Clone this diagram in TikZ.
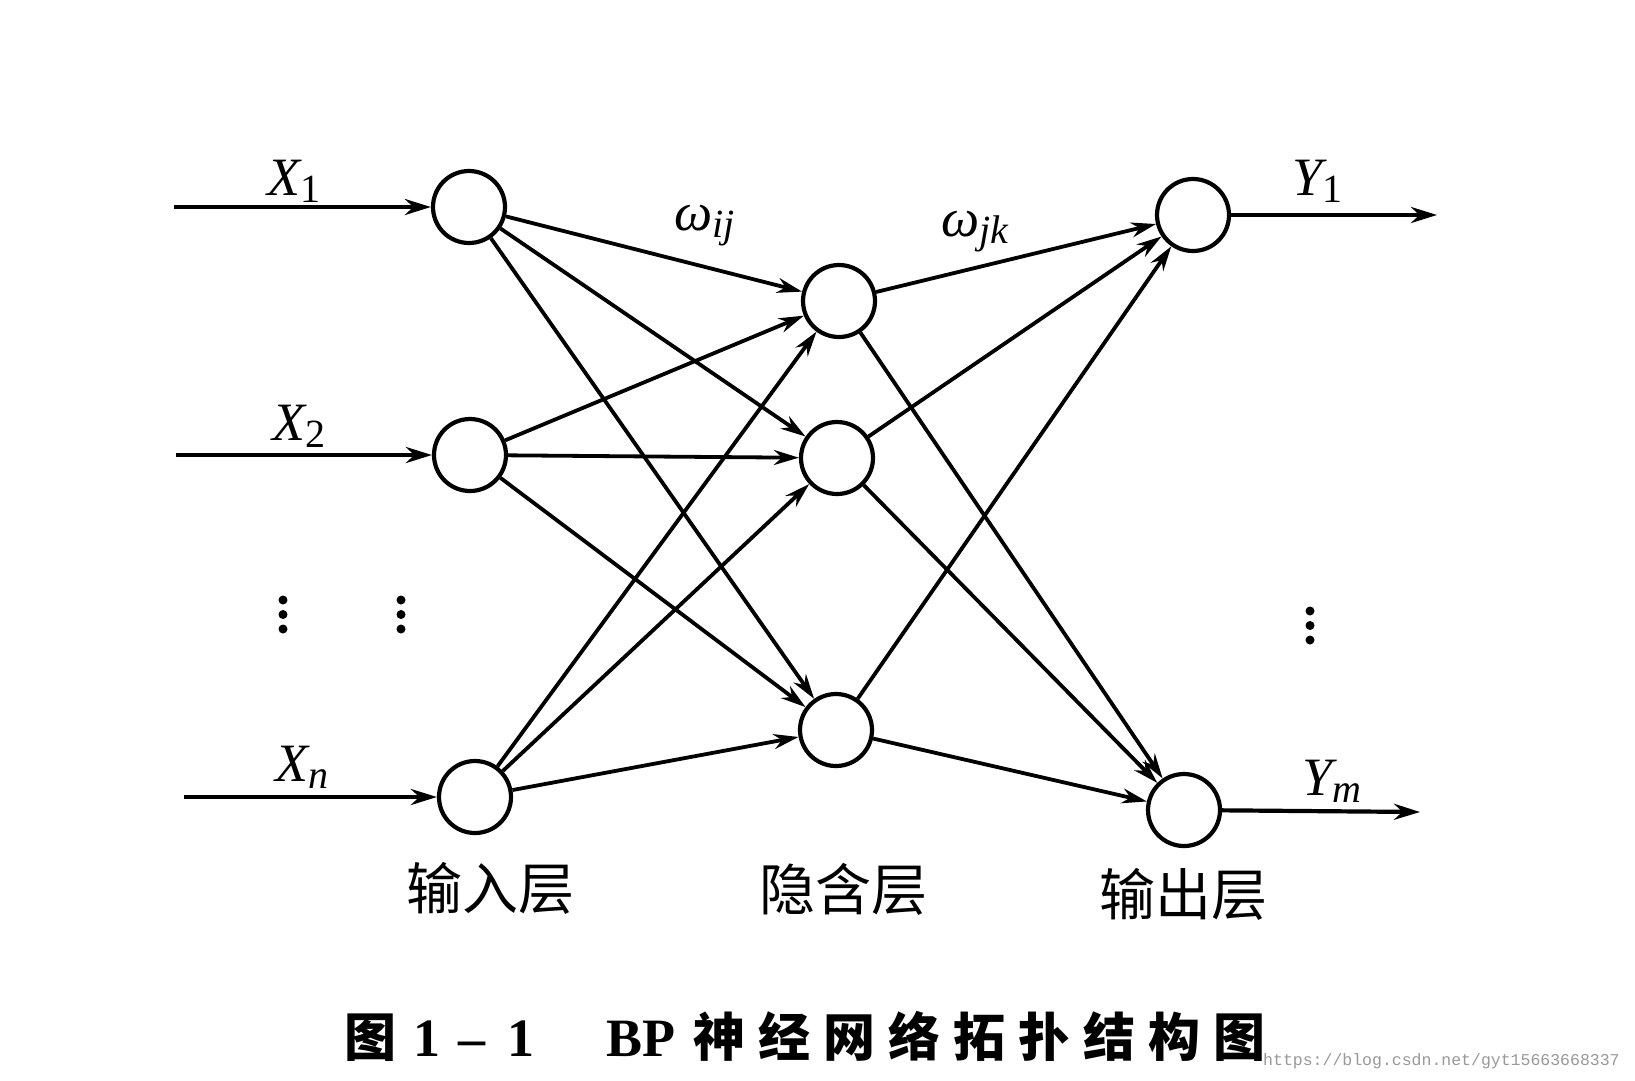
\documentclass[tikz,border=0pt]{standalone}
\usepackage{fontspec}
\setmainfont{Liberation Serif}
\newfontfamily\cjk{Noto Sans CJK SC}
\newfontfamily\wmfont{Liberation Mono}
\usetikzlibrary{arrows.meta}
\newcommand\lsub[1]{\raisebox{-7pt}{\fontsize{40}{40}\selectfont #1}}
\begin{document}
\begin{tikzpicture}[x=1pt,y=-1pt,
  neuron/.style={circle,draw,line width=4.2pt,minimum size=72pt,inner sep=0pt},
  conn/.style={line width=3.8pt,-{Stealth[length=25pt,width=15pt]}},
  io/.style={line width=4.2pt,-{Stealth[length=26pt,width=16pt]}},
  lbl/.style={font=\fontsize{54}{54}\selectfont\itshape,inner sep=0pt,anchor=base west},
  layer/.style={font=\cjk\fontsize{56}{60}\selectfont,inner sep=0pt},
  capc/.style={font=\cjk\bfseries\fontsize{52}{56}\selectfont,inner sep=0pt,anchor=base},
  capl/.style={font=\bfseries\fontsize{54}{56}\selectfont,inner sep=0pt,anchor=base},
  wm/.style={font=\wmfont\fontsize{16.5}{18}\selectfont,text=black!40,inner sep=0pt,anchor=west},
  dotm/.style={fill=black}]
\fill[white] (0,0) rectangle (1635,1080);
\useasboundingbox (0,0) rectangle (1635,1080);

% neurons
\node[neuron] (i1) at (469,207) {};
\node[neuron] (i2) at (470,455) {};
\node[neuron] (in) at (475,797) {};
\node[neuron] (h1) at (839,301) {};
\node[neuron] (h2) at (837,458) {};
\node[neuron] (h3) at (836,730) {};
\node[neuron] (o1) at (1193,215) {};
\node[neuron] (om) at (1184,810) {};

% free ends
\coordinate (x1s) at (174,207);
\coordinate (x2s) at (176,455);
\coordinate (xns) at (184,797);
\coordinate (y1e) at (1437,215);
\coordinate (yme) at (1420,812);

% input / output arrows
\draw[io] (x1s) -- (i1);
\draw[io] (x2s) -- (i2);
\draw[io] (xns) -- (in);
\draw[io] (o1) -- (y1e);
\draw[io] (om) -- (yme);

% weights
\foreach \a in {i1,i2,in}
  \foreach \b in {h1,h2,h3}
    \draw[conn] (\a) -- (\b);
\foreach \a in {h1,h2,h3}
  \foreach \b in {o1,om}
    \draw[conn] (\a) -- (\b);

% labels
\node[lbl] (lx1) at (267,195) {X\lsub{\upshape 1}};
\node[lbl] (lx2) at (272,440) {X\lsub{\upshape 2}};
\node[lbl] (lxn) at (275,781) {X\lsub{n}};
\node[lbl] (ly1) at (1292,195) {Y\lsub{\upshape 1}};
\node[lbl] (lym) at (1302,795) {Y\lsub{m}};
\node[lbl] (wij) at (674,230) {ω\lsub{ij}};
\node[lbl] (wjk) at (941,236) {ω\lsub{jk}};

% ellipses
\foreach \x/\y in {283/600,401/600,1310/611}
  \foreach \k in {0,1,2}
    \fill[dotm] (\x,\y+\k*14.5) circle (4.5);

% layer names
\node[layer] (L1) at (490,888) {输入层};
\node[layer] (L2) at (843,889) {隐含层};
\node[layer] (L3) at (1183,894) {输出层};

% caption
\node[capc] (c0) at (370,1056) {图};
\node[capl] (c1) at (427,1056) {1};
\node[capl] (c2) at (472,1056) {–};
\node[capl] (c3) at (521,1056) {1};
\node[capl] (c4) at (641,1056) {BP};
\foreach \ch [count=\k from 0] in {神,经,网,络,拓,扑,结,构,图}
  \node[capc] (cc\k) at (719+\k*65,1056) {\ch};

% watermark
\node[wm] (wmk) at (1263,1061) {https://blog.csdn.net/gyt15663668337};
\end{tikzpicture}
\end{document}
